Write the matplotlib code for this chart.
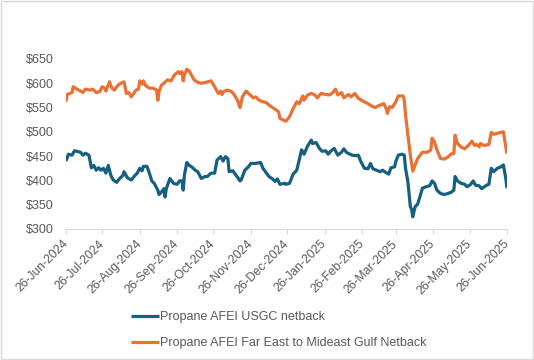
import matplotlib
matplotlib.use("Agg")
import matplotlib.pyplot as plt
import pandas as pd
from matplotlib.patches import Rectangle

usgc_dates = ["2024-06-26","2024-06-28","2024-07-01","2024-07-03","2024-07-05","2024-07-08","2024-07-10","2024-07-12","2024-07-15","2024-07-17",
"2024-07-19","2024-07-21","2024-07-23","2024-07-25","2024-07-27","2024-07-29","2024-07-31","2024-08-02","2024-08-04","2024-08-07",
"2024-08-09","2024-08-12","2024-08-13","2024-08-16","2024-08-19","2024-08-22","2024-08-24","2024-08-26","2024-08-28","2024-08-29",
"2024-09-01","2024-09-03","2024-09-05","2024-09-07","2024-09-10","2024-09-11","2024-09-13","2024-09-15","2024-09-16","2024-09-17",
"2024-09-20","2024-09-23","2024-09-26","2024-09-28","2024-09-30","2024-10-01","2024-10-02","2024-10-04","2024-10-06","2024-10-08",
"2024-10-11","2024-10-13","2024-10-16","2024-10-19","2024-10-21","2024-10-24","2024-10-27","2024-10-29","2024-11-01","2024-11-03",
"2024-11-05","2024-11-07","2024-11-08","2024-11-11","2024-11-14","2024-11-17","2024-11-18","2024-11-21","2024-11-24","2024-11-26",
"2024-11-30","2024-12-04","2024-12-06","2024-12-09","2024-12-11","2024-12-14","2024-12-16","2024-12-18","2024-12-20","2024-12-24",
"2024-12-25","2024-12-28","2024-12-31","2025-01-03","2025-01-05","2025-01-07","2025-01-09","2025-01-12","2025-01-15","2025-01-16",
"2025-01-19","2025-01-22","2025-01-24","2025-01-27","2025-01-29","2025-01-31","2025-02-03","2025-02-06","2025-02-09","2025-02-11",
"2025-02-13","2025-02-16","2025-02-18","2025-02-21","2025-02-23","2025-02-25","2025-02-28","2025-03-03","2025-03-05","2025-03-07",
"2025-03-10","2025-03-13","2025-03-15","2025-03-18","2025-03-20","2025-03-22","2025-03-25","2025-03-26","2025-03-28","2025-03-31",
"2025-04-02","2025-04-03","2025-04-05","2025-04-07","2025-04-08","2025-04-09","2025-04-11","2025-04-13","2025-04-15","2025-04-17",
"2025-04-20","2025-04-23","2025-04-25","2025-04-27","2025-04-29","2025-05-02","2025-05-05","2025-05-08","2025-05-11","2025-05-13",
"2025-05-14","2025-05-16","2025-05-19","2025-05-22","2025-05-24","2025-05-27","2025-05-29","2025-05-31","2025-06-03","2025-06-05",
"2025-06-09","2025-06-11","2025-06-13","2025-06-15","2025-06-18","2025-06-21","2025-06-23","2025-06-25","2025-06-26"]
usgc_values = [440,454,452,461,460,458,452,456,452,426,
431,421,426,421,425,415,431,411,401,396,
403,410,418,405,401,410,415,425,420,429,
429,415,399,394,380,371,376,383,366,383,
404,394,392,399,399,380,411,437,431,428,
421,418,404,408,408,415,415,442,449,440,
449,445,418,420,410,399,401,421,428,435,
435,437,425,415,408,403,398,403,392,394,
392,394,413,421,442,463,454,471,483,476,
478,465,460,461,454,460,466,452,458,465,
458,454,452,451,452,439,425,424,435,424,
421,418,421,416,413,426,428,439,452,454,
452,425,397,346,341,325,346,351,367,384,
387,389,399,394,380,373,371,373,376,380,
408,399,394,392,387,392,399,390,389,383,
390,392,425,418,425,428,432,404,384]

fe_dates = ["2024-06-26","2024-06-27","2024-06-29","2024-07-01","2024-07-02","2024-07-05","2024-07-08","2024-07-10","2024-07-12","2024-07-16",
"2024-07-18","2024-07-21","2024-07-24","2024-07-26","2024-07-28","2024-07-29","2024-08-01","2024-08-03","2024-08-05","2024-08-07",
"2024-08-09","2024-08-12","2024-08-13","2024-08-15","2024-08-17","2024-08-19","2024-08-21","2024-08-23","2024-08-25","2024-08-26",
"2024-08-28","2024-08-29","2024-08-31","2024-09-03","2024-09-06","2024-09-09","2024-09-10","2024-09-11","2024-09-13","2024-09-15",
"2024-09-18","2024-09-21","2024-09-24","2024-09-27","2024-09-28","2024-09-30","2024-10-01","2024-10-02","2024-10-04","2024-10-06",
"2024-10-08","2024-10-10","2024-10-13","2024-10-16","2024-10-20","2024-10-24","2024-10-27","2024-10-30","2024-11-01","2024-11-02",
"2024-11-04","2024-11-07","2024-11-10","2024-11-12","2024-11-15","2024-11-17","2024-11-19","2024-11-22","2024-11-25","2024-11-28",
"2024-11-30","2024-12-03","2024-12-06","2024-12-09","2024-12-11","2024-12-14","2024-12-17","2024-12-19","2024-12-20","2024-12-23",
"2024-12-25","2024-12-28","2024-12-31","2025-01-03","2025-01-05","2025-01-08","2025-01-09","2025-01-12","2025-01-15","2025-01-18",
"2025-01-20","2025-01-23","2025-01-27","2025-01-30","2025-02-02","2025-02-04","2025-02-06","2025-02-09","2025-02-11","2025-02-13",
"2025-02-15","2025-02-17","2025-02-20","2025-02-23","2025-02-27","2025-03-03","2025-03-06","2025-03-09","2025-03-11","2025-03-14",
"2025-03-16","2025-03-18","2025-03-19","2025-03-21","2025-03-23","2025-03-26","2025-03-28","2025-04-01","2025-04-02","2025-04-03",
"2025-04-05","2025-04-07","2025-04-09","2025-04-11","2025-04-13","2025-04-17","2025-04-21","2025-04-24","2025-04-25","2025-04-27",
"2025-04-29","2025-05-02","2025-05-05","2025-05-08","2025-05-11","2025-05-13","2025-05-14","2025-05-16","2025-05-19","2025-05-22",
"2025-05-25","2025-05-28","2025-05-30","2025-06-01","2025-06-03","2025-06-04","2025-06-07","2025-06-11","2025-06-13","2025-06-15",
"2025-06-18","2025-06-21","2025-06-23","2025-06-25","2025-06-26"]
fe_values = [562,577,579,581,593,588,584,581,588,586,
588,581,583,593,590,584,603,590,586,593,
598,602,603,579,581,572,579,586,588,605,
598,605,595,590,590,586,565,583,596,600,
607,605,618,624,620,624,605,617,629,625,
616,607,602,600,602,605,593,579,584,577,
584,586,583,577,565,550,572,584,577,570,
572,565,562,560,555,550,545,541,528,524,
522,531,548,562,558,574,565,576,579,576,
570,579,577,576,581,588,576,581,570,574,
577,572,579,569,563,558,553,550,553,556,
558,548,538,552,550,562,574,574,565,535,
493,452,419,432,445,458,458,463,487,479,
463,445,444,448,455,455,493,476,469,465,
472,481,472,474,469,476,472,474,499,495,
497,499,500,469,455]

series_labels = ["Propane AFEI USGC netback", "Propane AFEI Far East to Mideast Gulf Netback"]
tick_dates = ["2024-06-26","2024-07-26","2024-08-26","2024-09-26","2024-10-26","2024-11-26","2024-12-26",
              "2025-01-26","2025-02-26","2025-03-26","2025-04-26","2025-05-26","2025-06-26"]
y_ticks = [300, 350, 400, 450, 500, 550, 600, 650]

plt.rcParams['font.family'] = ['Liberation Sans', 'DejaVu Sans']
TXT = '#595959'
GRID = '#D9D9D9'

fig = plt.figure(figsize=(5.34, 3.60), dpi=100)
ax = fig.add_axes([66/534, 1-229/360, 441/534, 170/360])

ax.plot(pd.to_datetime(usgc_dates), usgc_values, color='#156082', lw=2.3,
        solid_joinstyle='round', solid_capstyle='butt', label=series_labels[0])
ax.plot(pd.to_datetime(fe_dates), fe_values, color='#E97132', lw=2.3,
        solid_joinstyle='round', solid_capstyle='butt', label=series_labels[1])

ax.set_xlim(pd.Timestamp("2024-06-26"), pd.Timestamp("2025-06-26"))
ax.set_ylim(300, 650)
ax.set_yticks(y_ticks)
ax.set_yticklabels([f"${v}" for v in y_ticks])
td = pd.to_datetime(tick_dates)
ax.set_xticks(td)
ax.set_xticklabels([d.strftime("%d-%b-%Y") for d in td], rotation=45,
                   ha='right', va='center', rotation_mode='anchor')

for s in ['top', 'right', 'left']:
    ax.spines[s].set_visible(False)
ax.spines['bottom'].set_color(GRID)
ax.spines['bottom'].set_linewidth(0.8)
ax.tick_params(axis='y', length=0, pad=9, labelsize=9, labelcolor=TXT)
ax.tick_params(axis='x', length=3.5, width=0.8, color=GRID, pad=6, labelsize=8.7, labelcolor=TXT)

fig.legend(loc='upper left', bbox_to_anchor=(131/534, 1-311/360), frameon=False,
           fontsize=9, labelcolor=TXT, borderpad=0, borderaxespad=0, handlelength=2.2,
           handletextpad=0.15, labelspacing=1.15)

fig.patches.append(Rectangle((0.001, 0.002), 0.997, 0.995, transform=fig.transFigure,
                             fill=False, edgecolor=GRID, lw=1.0))

fig.savefig("out.png", dpi=100)
